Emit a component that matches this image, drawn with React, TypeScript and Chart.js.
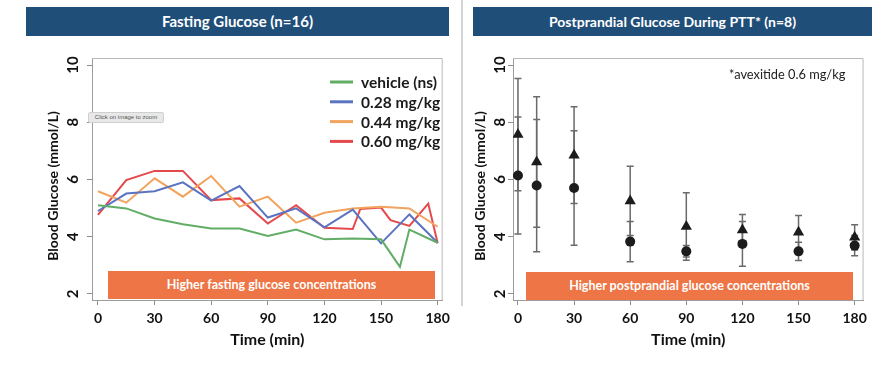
import React, { useEffect, useRef } from 'react';
import { Chart, registerables } from 'chart.js';
Chart.register(...registerables);

// ---- Fasting glucose (left panel) ----
const FASTING_TIMES = [0, 15, 30, 45, 60, 75, 90, 105, 120, 135, 150, 165, 180];
const VEHICLE_TIMES = [0, 15, 30, 45, 60, 75, 90, 105, 120, 135, 150, 160, 165, 180];
const VEHICLE = [5.1, 4.99, 4.64, 4.44, 4.29, 4.29, 4.03, 4.25, 3.91, 3.94, 3.91, 2.95, 4.25, 3.79];
const DOSE_028 = [4.9, 5.51, 5.59, 5.9, 5.26, 5.77, 4.67, 4.99, 4.33, 4.95, 3.77, 4.78, 3.79];
const DOSE_044 = [5.59, 5.19, 6.04, 5.4, 6.12, 5.05, 5.4, 4.49, 4.84, 4.99, 5.05, 4.99, 4.35];
const DOSE_060_TIMES = [0, 15, 30, 45, 60, 75, 90, 105, 120, 135, 139, 150, 155, 165, 175, 180];
const DOSE_060 = [4.76, 5.98, 6.3, 6.3, 5.28, 5.34, 4.46, 5.1, 4.31, 4.27, 4.97, 5.02, 4.58, 4.38, 5.16, 3.77];
const FASTING_LABELS = ['vehicle (ns)', '0.28 mg/kg', '0.44 mg/kg', '0.60 mg/kg'];

// ---- Postprandial glucose (right panel) ----
const PTT_TIMES = [0, 10, 30, 60, 90, 120, 150, 180];
const PTT_AVEXITIDE = [7.57, 6.61, 6.85, 5.25, 4.36, 4.24, 4.16, 3.98];
const PTT_AVEXITIDE_ERR = [1.96, 2.28, 1.69, 1.21, 1.18, 0.54, 0.58, 0.44];
const PTT_BASELINE = [6.14, 5.79, 5.7, 3.83, 3.49, 3.75, 3.49, 3.69];
const PTT_BASELINE_ERR = [2.04, 2.31, 2.0, 0.7, 0.2, 0.78, 0.32, 0.35];

const X_TICKS = [0, 30, 60, 90, 120, 150, 180];
const Y_TICKS = [2, 4, 6, 8, 10];

const FONT = 'Lato';
const COLORS = ['#62ad66', '#5a74c2', '#f2a35e', '#e4494b'];

const pts = (xs: number[], ys: number[]) => ys.map((y, i) => ({ x: xs[i], y }));

function makeScales(xMin: number, xMax: number, yWidth: number) {
  return {
    x: {
      type: 'linear',
      min: xMin,
      max: xMax,
      afterBuildTicks: (s: any) => {
        s.ticks = X_TICKS.map((v) => ({ value: v }));
      },
      afterFit: (s: any) => {
        s.height = 67;
      },
      grid: { drawOnChartArea: false, drawTicks: true, tickLength: 5, color: '#8c8c8c' },
      border: { display: true, color: '#9c9c9c', width: 1 },
      ticks: {
        color: '#111',
        font: { family: FONT, weight: 'bold', size: 14 },
        padding: 5,
        maxRotation: 0,
        minRotation: 0,
        autoSkip: false,
      },
      title: {
        display: true,
        text: 'Time (min)',
        color: '#111',
        font: { family: FONT, weight: 'bold', size: 16 },
        padding: { top: 0, bottom: 18 },
      },
    },
    y: {
      type: 'linear',
      min: 1.79,
      max: 10.245,
      afterBuildTicks: (s: any) => {
        s.ticks = Y_TICKS.map((v) => ({ value: v }));
      },
      afterFit: (s: any) => {
        s.width = yWidth;
      },
      grid: { drawOnChartArea: false, drawTicks: true, tickLength: 5, color: '#8c8c8c' },
      border: { display: true, color: '#9c9c9c', width: 1 },
      ticks: { display: false },
    },
  };
}

function decorPlugin(labelX: number, titleX: number, titleY: number) {
  return {
    id: 'decor',
    afterDraw(chart: any) {
      const { ctx, chartArea: a } = chart;
      const y = chart.scales.y;
      ctx.save();
      ctx.strokeStyle = '#b8b8b8';
      ctx.lineWidth = 1;
      ctx.beginPath();
      ctx.moveTo(a.left, a.top + 0.5);
      ctx.lineTo(a.right - 0.5, a.top + 0.5);
      ctx.lineTo(a.right - 0.5, a.bottom);
      ctx.stroke();
      ctx.fillStyle = '#111';
      ctx.textAlign = 'center';
      ctx.textBaseline = 'middle';
      ctx.font = `bold 15px ${FONT}`;
      for (const v of Y_TICKS) {
        ctx.save();
        ctx.translate(labelX, y.getPixelForValue(v));
        ctx.rotate(-Math.PI / 2);
        ctx.fillText(String(v), 0, 0);
        ctx.restore();
      }
      ctx.font = `bold 14px ${FONT}`;
      ctx.translate(titleX, titleY);
      ctx.rotate(-Math.PI / 2);
      ctx.fillText('Blood Glucose (mmol/L)', 0, 0);
      ctx.restore();
    },
  };
}

const legendPlugin = {
  id: 'insideLegend',
  afterDatasetsDraw(chart: any) {
    const { ctx, chartArea: a } = chart;
    ctx.save();
    ctx.font = `bold 15.5px ${FONT}`;
    ctx.textAlign = 'left';
    ctx.textBaseline = 'middle';
    chart.data.datasets.forEach((ds: any, i: number) => {
      const yy = a.top + 24 + i * 19.8;
      ctx.strokeStyle = ds.borderColor;
      ctx.lineWidth = 3;
      ctx.beginPath();
      ctx.moveTo(a.left + 238, yy);
      ctx.lineTo(a.left + 261, yy);
      ctx.stroke();
      ctx.fillStyle = '#1a1a1a';
      ctx.fillText(ds.label, a.left + 269, yy + 1);
    });
    ctx.restore();
  },
};

const errorBarPlugin = {
  id: 'errorBars',
  beforeDatasetsDraw(chart: any) {
    const { ctx } = chart;
    const x = chart.scales.x;
    const y = chart.scales.y;
    ctx.save();
    ctx.strokeStyle = '#6a6a6a';
    ctx.lineWidth = 1.5;
    chart.data.datasets.forEach((ds: any) => {
      const errs: number[] = ds.errors || [];
      ds.data.forEach((p: any, i: number) => {
        const e = errs[i];
        if (e == null) return;
        const px = x.getPixelForValue(p.x);
        const t = y.getPixelForValue(p.y + e);
        const b = y.getPixelForValue(p.y - e);
        ctx.beginPath();
        ctx.moveTo(px, t);
        ctx.lineTo(px, b);
        ctx.moveTo(px - 3.5, t);
        ctx.lineTo(px + 3.5, t);
        ctx.moveTo(px - 3.5, b);
        ctx.lineTo(px + 3.5, b);
        ctx.stroke();
      });
    });
    ctx.restore();
  },
};

function buildFasting() {
  const series = [
    pts(VEHICLE_TIMES, VEHICLE),
    pts(FASTING_TIMES, DOSE_028),
    pts(FASTING_TIMES, DOSE_044),
    pts(DOSE_060_TIMES, DOSE_060),
  ];
  return {
    type: 'line',
    data: {
      datasets: series.map((d, i) => ({
        label: FASTING_LABELS[i],
        data: d,
        borderColor: COLORS[i],
        backgroundColor: COLORS[i],
        borderWidth: 2,
        pointRadius: 0,
        tension: 0,
        fill: false,
      })),
    },
    options: {
      responsive: false,
      animation: false,
      layout: { padding: { left: 0, top: 58, right: 10, bottom: 0 } },
      plugins: { legend: { display: false }, tooltip: { enabled: false } },
      scales: makeScales(-3.16, 182.63, 92),
    },
    plugins: [decorPlugin(73.5, 53, 186), legendPlugin],
  };
}

function buildPostprandial() {
  return {
    type: 'scatter',
    data: {
      datasets: [
        {
          label: 'avexitide 0.6 mg/kg',
          data: pts(PTT_TIMES, PTT_AVEXITIDE),
          errors: PTT_AVEXITIDE_ERR,
          pointStyle: 'triangle',
          pointRadius: 6.5,
          backgroundColor: '#1c1c1c',
          borderColor: '#1c1c1c',
          borderWidth: 0,
        },
        {
          label: 'baseline',
          data: pts(PTT_TIMES, PTT_BASELINE),
          errors: PTT_BASELINE_ERR,
          pointStyle: 'circle',
          pointRadius: 5,
          backgroundColor: '#1c1c1c',
          borderColor: '#1c1c1c',
          borderWidth: 0,
        },
      ],
    },
    options: {
      responsive: false,
      animation: false,
      layout: { padding: { left: 0, top: 58, right: 5, bottom: 0 } },
      plugins: { legend: { display: false }, tooltip: { enabled: false } },
      scales: makeScales(-2.65, 184.76, 51),
    },
    plugins: [decorPlugin(38, 18, 186), errorBarPlugin],
  };
}

function ChartCanvas({ left, width, height, build }: any) {
  const ref = useRef<HTMLCanvasElement>(null);
  useEffect(() => {
    const chart = new Chart(ref.current as HTMLCanvasElement, build());
    return () => chart.destroy();
  }, []);
  return (
    <canvas
      ref={ref}
      width={width}
      height={height}
      style={{ position: 'absolute', left, top: 0, width, height, display: 'block' }}
    />
  );
}

const headerStyle: React.CSSProperties = {
  position: 'absolute',
  top: 7,
  height: 29,
  background: '#1f4e79',
  color: '#fff',
  fontFamily: FONT,
  fontWeight: 'bold',
  fontSize: 14,
  lineHeight: '29px',
  textAlign: 'center',
};

const bannerStyle: React.CSSProperties = {
  position: 'absolute',
  background: '#ee7545',
  color: '#fff',
  fontFamily: FONT,
  fontWeight: 'bold',
  fontSize: 12.5,
  textAlign: 'center',
};

export default function App() {
  return (
    <div
      style={{
        position: 'absolute',
        left: 0,
        top: 0,
        width: 872,
        height: 367,
        background: '#fff',
        overflow: 'hidden',
      }}
    >
      <ChartCanvas left={0} width={455} height={367} build={buildFasting} />
      <ChartCanvas left={462} width={410} height={367} build={buildPostprandial} />
      <div style={{ ...headerStyle, left: 26, width: 423, fontSize: 15 }}>Fasting Glucose (n=16)</div>
      <div style={{ ...headerStyle, left: 473, width: 399 }}>Postprandial Glucose During PTT* (n=8)</div>
      <div style={{ position: 'absolute', left: 461, top: 0, width: 2, height: 306, background: '#d4d4d4' }} />
      <div style={{ ...bannerStyle, left: 108, top: 271, width: 327, height: 28, lineHeight: '27px' }}>
        Higher fasting glucose concentrations
      </div>
      <div style={{ ...bannerStyle, left: 526, top: 272, width: 327, height: 28, lineHeight: '27px' }}>
        Higher postprandial glucose concentrations
      </div>
      <div
        style={{
          position: 'absolute',
          left: 729,
          top: 66,
          fontFamily: FONT,
          fontSize: 12.8,
          color: '#222',
          whiteSpace: 'nowrap',
        }}
      >
        *avexitide 0.6 mg/kg
      </div>
      <div
        style={{
          position: 'absolute',
          left: 88,
          top: 112,
          width: 74,
          height: 9,
          background: '#e8e8e8',
          border: '1px solid #cfcfcf',
          borderRadius: 2,
          fontFamily: 'Arial, "Liberation Sans", sans-serif',
          fontSize: 6,
          lineHeight: '9px',
          color: '#555',
          textAlign: 'center',
          whiteSpace: 'nowrap',
        }}
      >
        Click on image to zoom
      </div>
    </div>
  );
}
